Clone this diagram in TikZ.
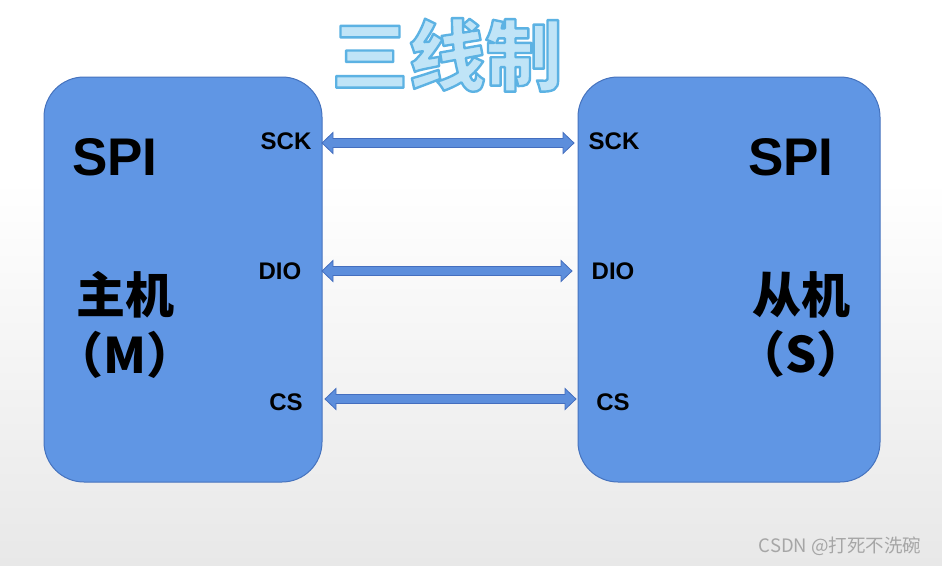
\documentclass[tikz,border=0pt]{standalone}
\usepackage{fontspec}
\setmainfont{Liberation Sans}
\newfontfamily\cjk{Noto Sans CJK SC}
\usetikzlibrary{positioning,calc}
\definecolor{boxblue}{RGB}{96,150,228}
\definecolor{boxedge}{RGB}{70,115,190}
\definecolor{arrowblue}{RGB}{92,142,220}
\definecolor{arrowedge}{RGB}{68,110,190}
\definecolor{titlefill}{RGB}{192,228,247}
\tikzset{
	spibox/.style = {draw=boxedge, fill=boxblue, line width=1pt, rounded corners=40pt, inner sep=0pt}, % the two chips
	big label/.style = {font=\bfseries\fontsize{53}{60}\selectfont, inner sep=0pt},
	cjk label/.style = {font=\cjk\bfseries\fontsize{49}{54}\selectfont, inner sep=0pt},
	port/.style = {font=\bfseries\fontsize{24}{26}\selectfont, inner sep=0pt},
	wire/.style = {draw=arrowedge, fill=arrowblue, line width=0.8pt}, % block arrow between ports
	title/.style = {font=\cjk\bfseries\fontsize{77}{84}\selectfont, text=titlefill, inner sep=0pt},
	watermark/.style = {font=\cjk\fontsize{18.5}{20}\selectfont, text=gray!70, inner sep=0pt}
}
% outlined text: fill + stroke (stroke colour 92,178,228)
\newcommand{\outlined}[1]{\special{pdf:literal direct 2 Tr 2.4 w 1 j 0.36 0.70 0.89 RG}#1\special{pdf:literal direct 0 Tr}}
% double block arrow from #1 to #2 (same height)
\newcommand{\wirearrow}[2]{%
	\draw[wire] let \p1=(#1), \p2=(#2) in (\p1) -- ++(11pt,10.5pt) -- ++(0pt,-6pt) -- (\x2-11pt,\y1+4.5pt) -- ++(0pt,6pt) -- (\p2) -- ++(-11pt,-10.5pt) -- ++(0pt,6pt) -- (\x1+11pt,\y1-4.5pt) -- ++(0pt,-6pt) -- cycle;}

\begin{document}
\begin{tikzpicture}[x=1pt, y=-1pt]
	\useasboundingbox (0,0) rectangle (942,565);
	\fill[white] (0,0) rectangle (942,180);
	\shade[top color=white, bottom color=gray!18] (0,180) rectangle (942,565);
	\node[title] (title) at (447,55) {\outlined{三线制}};
	\node[spibox, minimum width=278pt, minimum height=405pt] (master) at (183,279.5) {};
	\node[spibox, minimum width=302pt, minimum height=405pt] (slave) at (729,279.5) {};
	% master side
	\node[big label] (mspi) at (115,157) {SPI};
	\node[cjk label] (mname) at (125,295) {主机};
	\node[cjk label] (mtag) [below=12pt of mname] {（M）};
	\node[port] (msck) at (286,141) {SCK};
	\node[port] (mdio) at (280,271) {DIO};
	\node[port] (mcs) at (286,402) {CS};
	% slave side
	\node[big label] (sspi) at (791,157) {SPI};
	\node[cjk label] (sname) at (801,295) {从机};
	\node[cjk label] (stag) [below=12pt of sname] {（S）};
	\node[port] (ssck) at (614,141) {SCK};
	\node[port] (sdio) at (613,271) {DIO};
	\node[port] (scs) at (613,402) {CS};
	% line ends
	\coordinate (sckA) at (322,143);
	\coordinate (sckB) at (574,143);
	\coordinate (dioA) at (322,271);
	\coordinate (dioB) at (572,271);
	\coordinate (csA) at (325,399);
	\coordinate (csB) at (576,399);
	\wirearrow{sckA}{sckB}
	\wirearrow{dioA}{dioB}
	\wirearrow{csA}{csB}
	\node[watermark] (mark) at (840,546) {CSDN @打死不洗碗};
\end{tikzpicture}
\end{document}
